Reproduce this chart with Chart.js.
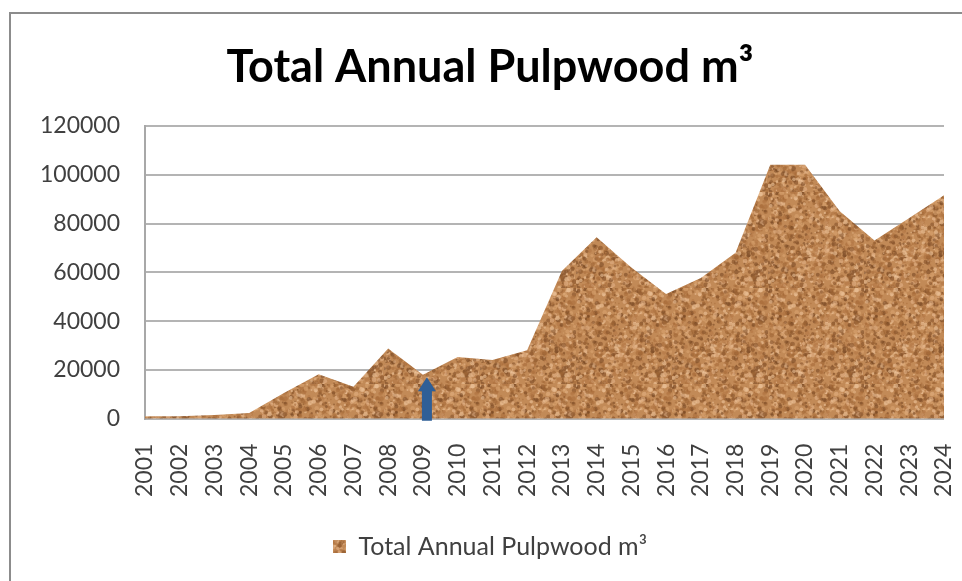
<!DOCTYPE html>
<html>
<head>
<meta charset="utf-8">
<script src="https://cdn.jsdelivr.net/npm/chart.js@4.4.1/dist/chart.umd.min.js"></script>
<style>
  html, body { margin: 0; padding: 0; background: #fff; }
  #wrap { position: relative; width: 962px; height: 581px; overflow: hidden; }
  #frame { position: absolute; left: 9px; top: 12px; width: 1000px; height: 600px; border: 2px solid #8c8c8c; }
  #chart { position: absolute; left: 0; top: 0; }
</style>
</head>
<body>
<div id="wrap">
  <div id="frame"></div>
  <canvas id="chart" width="962" height="581"></canvas>
</div>
<script>
const years = ["2001","2002","2003","2004","2005","2006","2007","2008","2009","2010","2011","2012",
               "2013","2014","2015","2016","2017","2018","2019","2020","2021","2022","2023","2024"];
const pulpwood = [1000, 1000, 1500, 2300, 10500, 18200, 13100, 28800, 18000, 25300, 24000, 28000,
                  60500, 74400, 62000, 51100, 57700, 68000, 104100, 104100, 85000, 73000, 82300, 91600];
const yTicks = [0, 20000, 40000, 60000, 80000, 100000, 120000];
const seriesName = "Total Annual Pulpwood m³";
const arrowYear = "2009";
const arrowTip = 17000;

// cork-like texture for the area fill
function corkPattern(){
  const c = document.createElement("canvas");
  c.width = 96; c.height = 96;
  const g = c.getContext("2d");
  g.fillStyle = "#c28a57";
  g.fillRect(0, 0, 96, 96);
  let seed = 7;
  function rnd(){ seed = (seed * 16807) % 2147483647; return seed / 2147483647; }
  const tones = ["#9c6434", "#b27645", "#e2b387", "#d8a470", "#85522a", "#ecc39a", "#a86c3a", "#7a4a24"];
  for (let i = 0; i < 1200; i++){
    g.fillStyle = tones[Math.floor(rnd() * tones.length)];
    g.globalAlpha = 0.6;
    g.beginPath();
    g.arc(rnd() * 96, rnd() * 96, 0.7 + rnd() * 1.8, 0, Math.PI * 2);
    g.fill();
  }
  g.globalAlpha = 1;
  return g.createPattern(c, "repeat");
}

const arrowPlugin = {
  id: "arrow",
  afterDatasetsDraw(chart){
    const x = chart.scales.x.getPixelForValue(years.indexOf(arrowYear)) + 4;
    const top = chart.scales.y.getPixelForValue(arrowTip);
    const base = chart.scales.y.getPixelForValue(0) + 2;
    const ctx = chart.ctx;
    ctx.save();
    ctx.fillStyle = "#2f5f97";
    ctx.beginPath();
    ctx.moveTo(x, top);
    ctx.lineTo(x + 9, top + 14);
    ctx.lineTo(x + 5, top + 14);
    ctx.lineTo(x + 5, base);
    ctx.lineTo(x - 5, base);
    ctx.lineTo(x - 5, top + 14);
    ctx.lineTo(x - 9, top + 14);
    ctx.closePath();
    ctx.fill();
    ctx.restore();
  }
};

const fontFamily = "Lato, 'Open Sans', sans-serif";

new Chart(document.getElementById("chart"), {
  type: "line",
  data: {
    labels: years,
    datasets: [{
      label: seriesName,
      data: pulpwood,
      fill: "origin",
      backgroundColor: corkPattern(),
      borderWidth: 0,
      pointRadius: 0,
      tension: 0
    }]
  },
  options: {
    responsive: false,
    animation: false,
    layout: { padding: { left: 36, right: 18, top: 40, bottom: 12 } },
    plugins: {
      title: {
        display: true,
        text: seriesName,
        color: "#000",
        font: { family: fontFamily, size: 45, weight: "bold" },
        padding: { top: 0, bottom: 32 }
      },
      legend: {
        position: "bottom",
        labels: {
          color: "#404040",
          font: { family: fontFamily, size: 25 },
          boxWidth: 13,
          boxHeight: 13,
          padding: 12
        }
      },
      tooltip: { enabled: false }
    },
    scales: {
      x: {
        offset: false,
        grid: { display: false, drawTicks: false },
        border: { display: false },
        afterFit(scale){ scale.paddingLeft = 0; scale.paddingRight = 0; },
        ticks: {
          autoSkip: false,
          minRotation: 90,
          maxRotation: 90,
          padding: 25,
          color: "#404040",
          font: { family: fontFamily, size: 23 }
        }
      },
      y: {
        min: 0,
        max: 120000,
        afterBuildTicks(axis){ axis.ticks = yTicks.map(v => ({ value: v })); },
        afterFit(scale){ scale.width = 109; },
        grid: { color: "#b4b4b4", lineWidth: 2, drawTicks: false },
        border: { display: true, color: "#a8a8a8", width: 2 },
        ticks: {
          padding: 25,
          color: "#404040",
          font: { family: fontFamily, size: 23 },
          callback: (v) => String(v)
        }
      }
    }
  },
  plugins: [arrowPlugin]
});
</script>
</body>
</html>
